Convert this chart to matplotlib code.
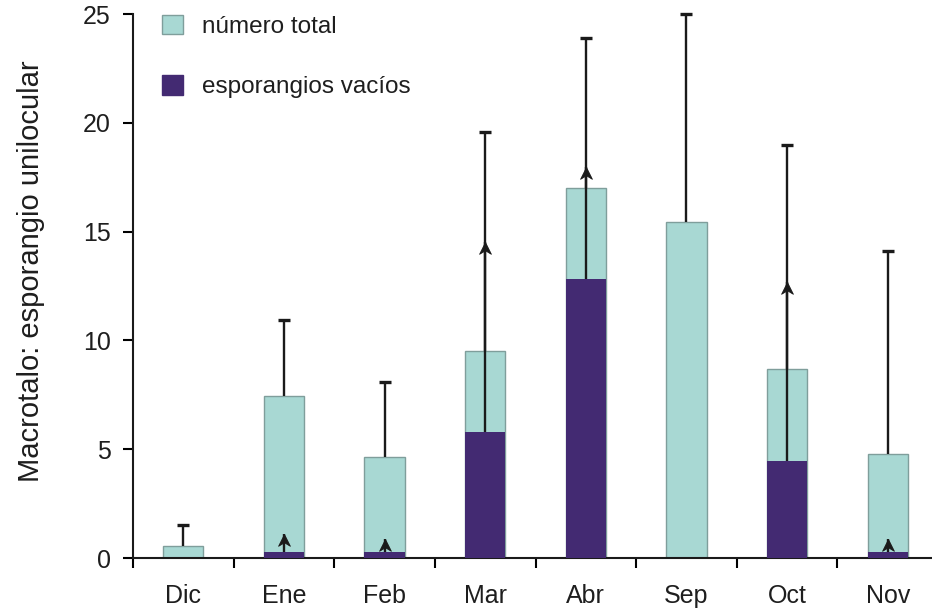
import numpy as np
import matplotlib.pyplot as plt
from matplotlib.patches import Patch
from matplotlib.path import Path

plt.rcParams['font.family'] = ['Liberation Sans', 'DejaVu Sans']

meses = ["Dic", "Ene", "Feb", "Mar", "Abr", "Sep", "Oct", "Nov"]
total = [0.55, 7.45, 4.65, 9.5, 17.0, 15.45, 8.7, 4.8]
total_err = [0.95, 3.5, 3.45, 10.1, 6.9, 9.55, 10.3, 9.3]
vacios = [0.0, 0.28, 0.28, 5.8, 12.8, 0.0, 4.45, 0.28]
vacios_err = [0.0, 0.8, 0.6, 8.7, 5.15, 0.0, 8.25, 0.6]

c_total = "#a8d8d3"
c_vacios = "#432a72"
c_linea = "#1a1a1a"
c_texto = "#1e1e1e"

# punta de flecha tipo "stealth" con el vértice en el origen
punta = Path([(0, 0), (-0.5, -1.0), (0, -0.7), (0.5, -1.0), (0, 0)],
             [Path.MOVETO, Path.LINETO, Path.LINETO, Path.LINETO, Path.CLOSEPOLY])

fig = plt.figure(figsize=(9.32, 6.14), dpi=100)
ax = fig.add_axes([133 / 932, 56 / 614, 805 / 932, 544 / 614])

x = np.arange(len(meses))
w = 0.4

ax.bar(x, total, w, color=c_total, edgecolor="#7f9e9b", linewidth=1.0, zorder=2)
ax.bar(x, vacios, w, color=c_vacios, linewidth=0, zorder=3)

# barras de error del total: solo hacia arriba, con remate en T
tope = np.array(total) + np.array(total_err)
ax.vlines(x, total, tope, color=c_linea, linewidth=1.7, zorder=4)
ax.plot(x, tope, linestyle="none", marker="_", markersize=9,
        markeredgewidth=2.4, color=c_linea, zorder=4, clip_on=False)

# barras de error de los vacíos con flecha
v = np.array(vacios)
e = np.array(vacios_err)
m = e > 0
ax.vlines(x[m], v[m], v[m] + e[m], color=c_linea, linewidth=1.7, zorder=5)
ax.plot(x[m], v[m] + e[m], linestyle="none", marker=punta, markersize=17,
        markeredgewidth=0.6, color=c_linea, zorder=5)

ax.set_xlim(-0.5, 7.5)
ax.set_ylim(0, 25)
ax.set_yticks([0, 5, 10, 15, 20, 25])

ax.set_xticks(np.arange(-0.5, 8, 1))
ax.set_xticklabels([])
ax.set_xticks(x, minor=True)
ax.set_xticklabels(meses, minor=True)
ax.tick_params(axis="x", which="major", direction="out", length=7, width=1.5)
ax.tick_params(axis="x", which="minor", length=0, pad=19, labelsize=18, labelcolor=c_texto)
ax.tick_params(axis="y", direction="out", length=7, width=1.5, pad=9,
               labelsize=18, labelcolor=c_texto)

for s in ["top", "right"]:
    ax.spines[s].set_visible(False)
for s in ["left", "bottom"]:
    ax.spines[s].set_linewidth(1.5)
    ax.spines[s].set_color(c_linea)

fig.text(31 / 932, 1 - 271 / 614, "Macrotalo: esporangio unilocular",
         rotation=90, ha="center", va="center", fontsize=21, color=c_texto)

handles = [Patch(facecolor=c_total, edgecolor="#7f9e9b", linewidth=1.0),
           Patch(facecolor=c_vacios, edgecolor=c_vacios)]
fig.legend(handles, ["número total", "esporangios vacíos"],
           loc="upper left", bbox_to_anchor=(140 / 932, 1.012), frameon=False,
           fontsize=17.5, handlelength=0.85, handleheight=0.85, handletextpad=0.8,
           labelspacing=1.55, labelcolor=c_texto)

fig.savefig("out.png", dpi=100)
